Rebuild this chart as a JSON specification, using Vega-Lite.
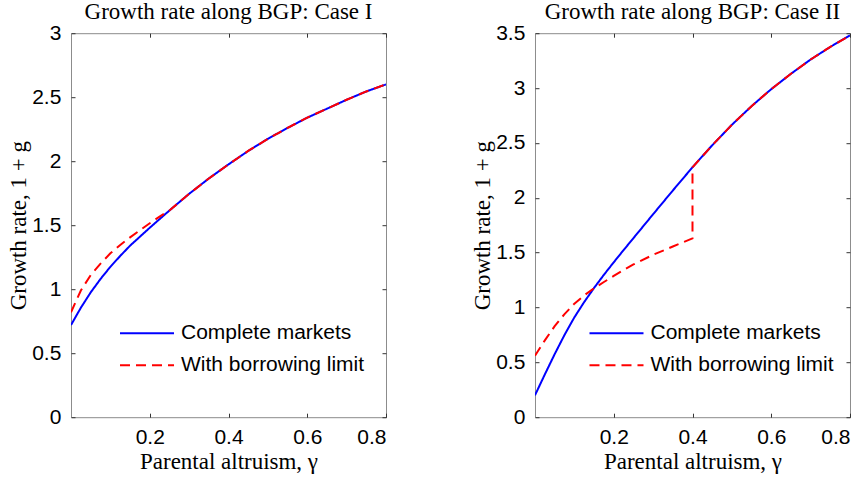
{
  "$schema": "https://vega.github.io/schema/vega-lite/v6.json",
  "background": "white",
  "padding": {"left": 6, "top": 0.2, "right": 10, "bottom": 0},
  "spacing": 83,
  "datasets": {
    "caseI": [
      {"series": "Complete markets", "i": 0, "gamma": 0, "rate": 0.72},
      {"series": "Complete markets", "i": 1, "gamma": 0.025, "rate": 0.855},
      {"series": "Complete markets", "i": 2, "gamma": 0.05, "rate": 0.975},
      {"series": "Complete markets", "i": 3, "gamma": 0.075, "rate": 1.08},
      {"series": "Complete markets", "i": 4, "gamma": 0.1, "rate": 1.175},
      {"series": "Complete markets", "i": 5, "gamma": 0.125, "rate": 1.26},
      {"series": "Complete markets", "i": 6, "gamma": 0.15, "rate": 1.34},
      {"series": "Complete markets", "i": 7, "gamma": 0.175, "rate": 1.41},
      {"series": "Complete markets", "i": 8, "gamma": 0.2, "rate": 1.48},
      {"series": "Complete markets", "i": 9, "gamma": 0.25, "rate": 1.615},
      {"series": "Complete markets", "i": 10, "gamma": 0.3, "rate": 1.745},
      {"series": "Complete markets", "i": 11, "gamma": 0.35, "rate": 1.865},
      {"series": "Complete markets", "i": 12, "gamma": 0.4, "rate": 1.975},
      {"series": "Complete markets", "i": 13, "gamma": 0.45, "rate": 2.08},
      {"series": "Complete markets", "i": 14, "gamma": 0.5, "rate": 2.175},
      {"series": "Complete markets", "i": 15, "gamma": 0.55, "rate": 2.26},
      {"series": "Complete markets", "i": 16, "gamma": 0.6, "rate": 2.34},
      {"series": "Complete markets", "i": 17, "gamma": 0.65, "rate": 2.41},
      {"series": "Complete markets", "i": 18, "gamma": 0.7, "rate": 2.48},
      {"series": "Complete markets", "i": 19, "gamma": 0.75, "rate": 2.545},
      {"series": "Complete markets", "i": 20, "gamma": 0.8, "rate": 2.6},
      {"series": "With borrowing limit", "i": 0, "gamma": 0, "rate": 0.82},
      {"series": "With borrowing limit", "i": 1, "gamma": 0.025, "rate": 0.99},
      {"series": "With borrowing limit", "i": 2, "gamma": 0.05, "rate": 1.11},
      {"series": "With borrowing limit", "i": 3, "gamma": 0.075, "rate": 1.2},
      {"series": "With borrowing limit", "i": 4, "gamma": 0.1, "rate": 1.28},
      {"series": "With borrowing limit", "i": 5, "gamma": 0.125, "rate": 1.345},
      {"series": "With borrowing limit", "i": 6, "gamma": 0.15, "rate": 1.405},
      {"series": "With borrowing limit", "i": 7, "gamma": 0.175, "rate": 1.46},
      {"series": "With borrowing limit", "i": 8, "gamma": 0.2, "rate": 1.515},
      {"series": "With borrowing limit", "i": 9, "gamma": 0.225, "rate": 1.567},
      {"series": "With borrowing limit", "i": 10, "gamma": 0.25, "rate": 1.615},
      {"series": "With borrowing limit", "i": 11, "gamma": 0.3, "rate": 1.745},
      {"series": "With borrowing limit", "i": 12, "gamma": 0.35, "rate": 1.865},
      {"series": "With borrowing limit", "i": 13, "gamma": 0.4, "rate": 1.975},
      {"series": "With borrowing limit", "i": 14, "gamma": 0.45, "rate": 2.08},
      {"series": "With borrowing limit", "i": 15, "gamma": 0.5, "rate": 2.175},
      {"series": "With borrowing limit", "i": 16, "gamma": 0.55, "rate": 2.26},
      {"series": "With borrowing limit", "i": 17, "gamma": 0.6, "rate": 2.34},
      {"series": "With borrowing limit", "i": 18, "gamma": 0.65, "rate": 2.41},
      {"series": "With borrowing limit", "i": 19, "gamma": 0.7, "rate": 2.48},
      {"series": "With borrowing limit", "i": 20, "gamma": 0.75, "rate": 2.545},
      {"series": "With borrowing limit", "i": 21, "gamma": 0.8, "rate": 2.6}
    ],
    "caseII": [
      {"series": "Complete markets", "i": 0, "gamma": 0, "rate": 0.2},
      {"series": "Complete markets", "i": 1, "gamma": 0.025, "rate": 0.39},
      {"series": "Complete markets", "i": 2, "gamma": 0.05, "rate": 0.575},
      {"series": "Complete markets", "i": 3, "gamma": 0.075, "rate": 0.75},
      {"series": "Complete markets", "i": 4, "gamma": 0.1, "rate": 0.91},
      {"series": "Complete markets", "i": 5, "gamma": 0.125, "rate": 1.05},
      {"series": "Complete markets", "i": 6, "gamma": 0.15, "rate": 1.178},
      {"series": "Complete markets", "i": 7, "gamma": 0.175, "rate": 1.298},
      {"series": "Complete markets", "i": 8, "gamma": 0.2, "rate": 1.412},
      {"series": "Complete markets", "i": 9, "gamma": 0.225, "rate": 1.523},
      {"series": "Complete markets", "i": 10, "gamma": 0.25, "rate": 1.632},
      {"series": "Complete markets", "i": 11, "gamma": 0.3, "rate": 1.85},
      {"series": "Complete markets", "i": 12, "gamma": 0.35, "rate": 2.066},
      {"series": "Complete markets", "i": 13, "gamma": 0.4, "rate": 2.278},
      {"series": "Complete markets", "i": 14, "gamma": 0.45, "rate": 2.478},
      {"series": "Complete markets", "i": 15, "gamma": 0.5, "rate": 2.665},
      {"series": "Complete markets", "i": 16, "gamma": 0.55, "rate": 2.835},
      {"series": "Complete markets", "i": 17, "gamma": 0.6, "rate": 2.99},
      {"series": "Complete markets", "i": 18, "gamma": 0.65, "rate": 3.13},
      {"series": "Complete markets", "i": 19, "gamma": 0.7, "rate": 3.26},
      {"series": "Complete markets", "i": 20, "gamma": 0.75, "rate": 3.375},
      {"series": "Complete markets", "i": 21, "gamma": 0.8, "rate": 3.48},
      {"series": "With borrowing limit", "i": 0, "gamma": 0, "rate": 0.56},
      {"series": "With borrowing limit", "i": 1, "gamma": 0.025, "rate": 0.7},
      {"series": "With borrowing limit", "i": 2, "gamma": 0.05, "rate": 0.83},
      {"series": "With borrowing limit", "i": 3, "gamma": 0.075, "rate": 0.94},
      {"series": "With borrowing limit", "i": 4, "gamma": 0.1, "rate": 1.035},
      {"series": "With borrowing limit", "i": 5, "gamma": 0.125, "rate": 1.11},
      {"series": "With borrowing limit", "i": 6, "gamma": 0.15, "rate": 1.175},
      {"series": "With borrowing limit", "i": 7, "gamma": 0.175, "rate": 1.232},
      {"series": "With borrowing limit", "i": 8, "gamma": 0.2, "rate": 1.288},
      {"series": "With borrowing limit", "i": 9, "gamma": 0.225, "rate": 1.342},
      {"series": "With borrowing limit", "i": 10, "gamma": 0.25, "rate": 1.392},
      {"series": "With borrowing limit", "i": 11, "gamma": 0.3, "rate": 1.48},
      {"series": "With borrowing limit", "i": 12, "gamma": 0.35, "rate": 1.556},
      {"series": "With borrowing limit", "i": 13, "gamma": 0.4, "rate": 1.63},
      {"series": "With borrowing limit", "i": 14, "gamma": 0.4, "rate": 2.278},
      {"series": "With borrowing limit", "i": 15, "gamma": 0.45, "rate": 2.478},
      {"series": "With borrowing limit", "i": 16, "gamma": 0.5, "rate": 2.665},
      {"series": "With borrowing limit", "i": 17, "gamma": 0.55, "rate": 2.835},
      {"series": "With borrowing limit", "i": 18, "gamma": 0.6, "rate": 2.99},
      {"series": "With borrowing limit", "i": 19, "gamma": 0.65, "rate": 3.13},
      {"series": "With borrowing limit", "i": 20, "gamma": 0.7, "rate": 3.26},
      {"series": "With borrowing limit", "i": 21, "gamma": 0.75, "rate": 3.375},
      {"series": "With borrowing limit", "i": 22, "gamma": 0.8, "rate": 3.48}
    ]
  },
  "config": {
    "view": {"stroke": "#8c8c8c", "strokeWidth": 1},
    "axis": {
      "grid": false,
      "domain": false,
      "minExtent": 0,
      "tickColor": "#333333",
      "tickSize": -4,
      "labelFont": "Liberation Sans",
      "labelFontSize": 21,
      "labelColor": "black",
      "titleFont": "Liberation Serif",
      "titleFontSize": 23,
      "titleFontWeight": "normal",
      "titleColor": "black"
    },
    "axisBottom": {"labelPadding": 13, "titlePadding": 3},
    "axisLeft": {"labelPadding": 14.2, "titlePadding": 1.5},
    "title": {"font": "Liberation Serif", "fontSize": 23, "fontWeight": "normal", "color": "black", "frame": "group"},
    "legend": {
      "orient": "none",
      "title": null,
      "symbolType": "M-1.46,0H1.46",
      "symbolSize": 1369,
      "symbolStrokeWidth": 2,
      "labelFont": "Liberation Sans",
      "labelFontSize": 21,
      "labelColor": "black",
      "labelOffset": 14.5,
      "labelLimit": 400
    }
  },
  "resolve": {
    "scale": {"color": "independent", "strokeDash": "independent"},
    "legend": {"color": "independent", "strokeDash": "independent"}
  },
  "hconcat": [
    {
      "width": 315,
      "height": 384,
      "title": {"text": "Growth rate along BGP: Case I", "baseline": "alphabetic", "offset": -19.5},
      "data": {"name": "caseI"},
      "layer": [
        {
          "transform": [{"filter": "datum.series == 'Complete markets'"}],
          "mark": {"type": "line", "strokeWidth": 2, "clip": true},
          "encoding": {
            "x": {"field": "gamma", "type": "quantitative", "scale": {"domain": [0, 0.8], "nice": false, "zero": false},
                  "axis": {"orient": "bottom", "values": [0.2, 0.4, 0.6, 0.8], "format": "~g", "title": "Parental altruism, γ"}},
            "y": {"field": "rate", "type": "quantitative", "scale": {"domain": [0, 3], "nice": false},
                  "axis": {"orient": "left", "values": [0, 0.5, 1, 1.5, 2, 2.5, 3], "format": "~g", "title": "Growth rate, 1 + g"}},
            "color": {"field": "series", "type": "nominal",
                      "scale": {"domain": ["Complete markets", "With borrowing limit"], "range": ["#0000ff", "#ff0000"]},
                      "legend": {"legendX": 56.5, "legendY": 280.5}},
            "strokeDash": {"field": "series", "type": "nominal",
                      "scale": {"domain": ["Complete markets", "With borrowing limit"], "range": [[1, 0], [10, 6]]},
                      "legend": {"legendX": 56.5, "legendY": 280.5}},
            "order": {"field": "i", "type": "quantitative"}
          }
        },
        {
          "transform": [{"filter": "datum.series == 'With borrowing limit'"}],
          "mark": {"type": "line", "strokeWidth": 2, "clip": true},
          "encoding": {
            "x": {"field": "gamma", "type": "quantitative", "scale": {"domain": [0, 0.8], "nice": false, "zero": false},
                  "axis": {"orient": "top", "values": [0.2, 0.4, 0.6, 0.8], "labels": false, "title": null}},
            "y": {"field": "rate", "type": "quantitative", "scale": {"domain": [0, 3], "nice": false},
                  "axis": {"orient": "right", "values": [0, 0.5, 1, 1.5, 2, 2.5, 3], "labels": false, "title": null}},
            "color": {"field": "series", "type": "nominal",
                      "scale": {"domain": ["Complete markets", "With borrowing limit"], "range": ["#0000ff", "#ff0000"]},
                      "legend": {"legendX": 56.5, "legendY": 280.5}},
            "strokeDash": {"field": "series", "type": "nominal",
                      "scale": {"domain": ["Complete markets", "With borrowing limit"], "range": [[1, 0], [10, 6]]},
                      "legend": {"legendX": 56.5, "legendY": 280.5}},
            "order": {"field": "i", "type": "quantitative"}
          }
        }
      ],
      "resolve": {"axis": {"x": "independent", "y": "independent"}}
    },
    {
      "width": 315,
      "height": 384,
      "title": {"text": "Growth rate along BGP: Case II", "baseline": "alphabetic", "offset": -19.5},
      "data": {"name": "caseII"},
      "layer": [
        {
          "transform": [{"filter": "datum.series == 'Complete markets'"}],
          "mark": {"type": "line", "strokeWidth": 2, "clip": true},
          "encoding": {
            "x": {"field": "gamma", "type": "quantitative", "scale": {"domain": [0, 0.8], "nice": false, "zero": false},
                  "axis": {"orient": "bottom", "values": [0.2, 0.4, 0.6, 0.8], "format": "~g", "title": "Parental altruism, γ"}},
            "y": {"field": "rate", "type": "quantitative", "scale": {"domain": [0, 3.5], "nice": false},
                  "axis": {"orient": "left", "values": [0, 0.5, 1, 1.5, 2, 2.5, 3, 3.5], "format": "~g", "title": "Growth rate, 1 + g"}},
            "color": {"field": "series", "type": "nominal",
                      "scale": {"domain": ["Complete markets", "With borrowing limit"], "range": ["#0000ff", "#ff0000"]},
                      "legend": {"legendX": 62, "legendY": 280.5}},
            "strokeDash": {"field": "series", "type": "nominal",
                      "scale": {"domain": ["Complete markets", "With borrowing limit"], "range": [[1, 0], [10, 6]]},
                      "legend": {"legendX": 62, "legendY": 280.5}},
            "order": {"field": "i", "type": "quantitative"}
          }
        },
        {
          "transform": [{"filter": "datum.series == 'With borrowing limit'"}],
          "mark": {"type": "line", "strokeWidth": 2, "clip": true},
          "encoding": {
            "x": {"field": "gamma", "type": "quantitative", "scale": {"domain": [0, 0.8], "nice": false, "zero": false},
                  "axis": {"orient": "top", "values": [0.2, 0.4, 0.6, 0.8], "labels": false, "title": null}},
            "y": {"field": "rate", "type": "quantitative", "scale": {"domain": [0, 3.5], "nice": false},
                  "axis": {"orient": "right", "values": [0, 0.5, 1, 1.5, 2, 2.5, 3, 3.5], "labels": false, "title": null}},
            "color": {"field": "series", "type": "nominal",
                      "scale": {"domain": ["Complete markets", "With borrowing limit"], "range": ["#0000ff", "#ff0000"]},
                      "legend": {"legendX": 62, "legendY": 280.5}},
            "strokeDash": {"field": "series", "type": "nominal",
                      "scale": {"domain": ["Complete markets", "With borrowing limit"], "range": [[1, 0], [10, 6]]},
                      "legend": {"legendX": 62, "legendY": 280.5}},
            "order": {"field": "i", "type": "quantitative"}
          }
        }
      ],
      "resolve": {"axis": {"x": "independent", "y": "independent"}}
    }
  ]
}
